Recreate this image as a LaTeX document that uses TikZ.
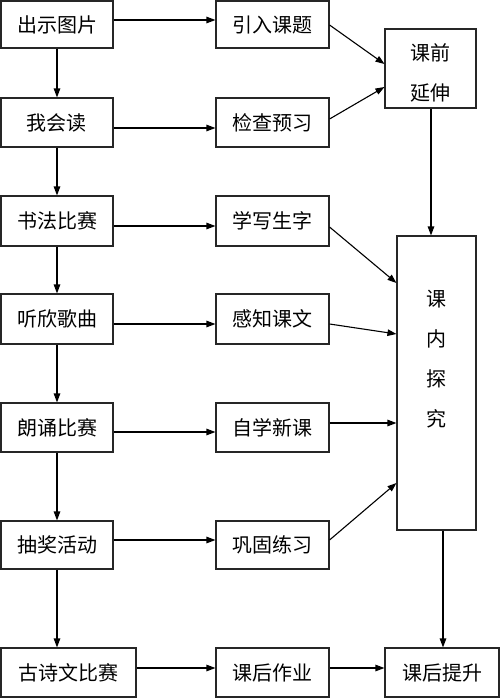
\documentclass[tikz,border=0pt]{standalone}
\usepackage{fontspec}
\newfontfamily\cjk{Noto Sans CJK SC}
\usetikzlibrary{arrows.meta}
\newcommand\shiftedtext[2]{\raisebox{#1}[0pt][0pt]{\begin{tabular}{@{}c@{}}#2\end{tabular}}}
\begin{document}
\begin{tikzpicture}[x=1pt,y=-1pt,
  box/.style={draw=black!85,line width=1.1pt,inner sep=0pt,align=center,
    font=\cjk\fontsize{20}{40}\selectfont},
  conn/.style={line width=1.1pt,-{Triangle[length=9pt,width=6.5pt]}}]
\useasboundingbox (0,0) rectangle (500,699);
% left column
\node[box,minimum width=112pt,minimum height=47pt] (a1) at (57,24.5) {出示图片};
\node[box,minimum width=112pt,minimum height=49pt] (a2) at (57,122.5) {我会读};
\node[box,minimum width=112pt,minimum height=50pt] (a3) at (57,221) {书法比赛};
\node[box,minimum width=112pt,minimum height=50pt] (a4) at (57,319) {听欣歌曲};
\node[box,minimum width=112pt,minimum height=49pt] (a5) at (57,427.5) {朗诵比赛};
\node[box,minimum width=112pt,minimum height=48pt] (a6) at (57,545) {抽奖活动};
\node[box,minimum width=135pt,minimum height=49pt] (a7) at (68.5,672.5) {古诗文比赛};
% middle column
\node[box,minimum width=113pt,minimum height=47pt] (b1) at (272.5,24.5) {引入课题};
\node[box,minimum width=113pt,minimum height=49pt] (b2) at (272.5,122.5) {检查预习};
\node[box,minimum width=113pt,minimum height=50pt] (b3) at (272.5,221) {学写生字};
\node[box,minimum width=113pt,minimum height=50pt] (b4) at (272.5,319) {感知课文};
\node[box,minimum width=113pt,minimum height=49pt] (b5) at (272.5,427.5) {自学新课};
\node[box,minimum width=113pt,minimum height=48pt] (b6) at (272.5,545) {巩固练习};
\node[box,minimum width=113pt,minimum height=49pt] (b7) at (272.5,672.5) {课后作业};
% right column
\node[box,minimum width=91pt,minimum height=79pt] (c1) at (430.5,68.5) {\shiftedtext{-9pt}{课前\\延伸}};
\node[box,minimum width=79pt,minimum height=294pt] (c2) at (436.5,383) {\shiftedtext{19pt}{课\\内\\探\\究}};
\node[box,minimum width=114pt,minimum height=49pt] (c3) at (442,672.5) {课后提升};
% vertical chain
\draw[conn] (a1) -- (a2);
\draw[conn] (a2) -- (a3);
\draw[conn] (a3) -- (a4);
\draw[conn] (a4) -- (a5);
\draw[conn] (a5) -- (a6);
\draw[conn] (a6.south) -- (a6.south |- a7.north);
% horizontal arrows
\draw[conn] (a1.east |- 0,20) -- (b1.west |- 0,20);
\draw[conn] (a2.east |- 0,128) -- (b2.west |- 0,128);
\draw[conn] (a3.east |- 0,226) -- (b3.west |- 0,226);
\draw[conn] (a4.east |- 0,324) -- (b4.west |- 0,324);
\draw[conn] (a5.east |- 0,432) -- (b5.west |- 0,432);
\draw[conn] (a6.east |- 0,540) -- (b6.west |- 0,540);
\draw[conn] (a7.east |- 0,668) -- (b7.west |- 0,668);
\draw[conn] (b7.east |- 0,668) -- (c3.west |- 0,668);
% into 课前延伸
\draw[conn] (b1.east |- 0,25) -- (c1.west |- 0,64);
\draw[conn] (b2.east |- 0,119) -- (c1.west |- 0,87);
\draw[conn] (c1.south -| 431,0) -- (c2.north -| 431,0);
% into 课内探究
\draw[conn] (b3.east |- 0,227) -- (c2.west |- 0,283);
\draw[conn] (b4.east |- 0,324) -- (c2.west |- 0,334);
\draw[conn] (b5.east |- 0,423) -- (c2.west |- 0,423);
\draw[conn] (b6.east |- 0,540) -- (c2.west |- 0,483);
\draw[conn] (c2.south -| 443,0) -- (c3.north -| 443,0);
\end{tikzpicture}
\end{document}
